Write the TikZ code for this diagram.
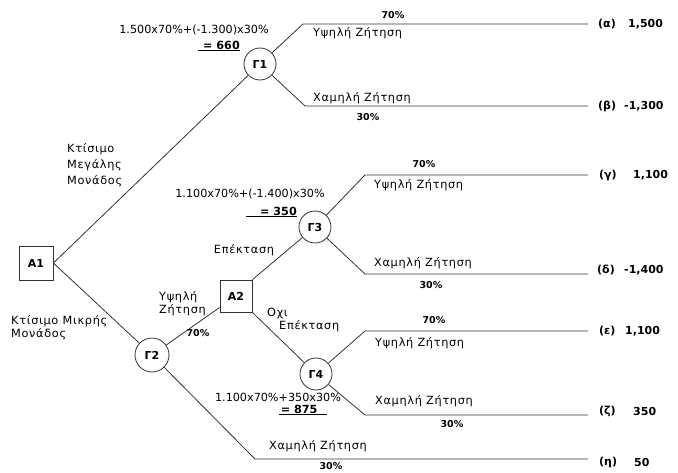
\documentclass[tikz,border=0pt]{standalone}
\usepackage{fontspec}
\setmainfont{DejaVu Sans}
\newfontfamily\grk[LetterSpace=6]{DejaVu Sans}
\begin{document}
\begin{tikzpicture}[x=1pt,y=-1pt,
  link/.style={draw=black!80, line width=0.8pt},
  sq/.style={draw=black!80, line width=0.8pt, minimum size=34pt, inner sep=0pt, font=\bfseries\fontsize{11}{13}\selectfont},
  cn/.style={draw=black!80, line width=0.8pt, circle, minimum size=32pt, inner sep=0pt, font=\bfseries\fontsize{11}{13}\selectfont},
  lbl/.style={inner sep=1pt, font=\grk\fontsize{11.3}{13}\selectfont},
  frm/.style={inner sep=1pt, font=\fontsize{11.2}{13}\selectfont},
  pct/.style={inner sep=1pt, font=\bfseries\fontsize{9.5}{11}\selectfont},
  pay/.style={inner sep=1pt, anchor=west, font=\bfseries\fontsize{11}{13}\selectfont}]
\useasboundingbox (0,0) rectangle (678,473);

% decision and chance nodes
\node[sq] (A1) at (36,263) {A1};
\node[cn] (G1) at (260,64) {Γ1};
\node[cn, minimum size=34pt] (G2) at (152,355) {Γ2};
\node[sq, minimum size=32pt] (A2) at (236,296) {A2};
\node[cn] (G3) at (315,227) {Γ3};
\node[cn] (G4) at (316,374) {Γ4};

% bends and ends
\coordinate (b1) at (303,24);  \coordinate (e1) at (588,24);
\coordinate (b2) at (305,106); \coordinate (e2) at (588,106);
\coordinate (b3) at (365,175); \coordinate (e3) at (588,175);
\coordinate (b4) at (365,274); \coordinate (e4) at (588,274);
\coordinate (b5) at (365,331); \coordinate (e5) at (588,331);
\coordinate (b6) at (365,415); \coordinate (e6) at (588,415);
\coordinate (b7) at (255,459); \coordinate (e7) at (588,459);

% connectors
\draw[link] (A1.east) -- (G1);
\draw[link] (A1.east) -- (G2);
\draw[link] (G2) -- (A2);
\draw[link] (A2.north east) -- (G3);
\draw[link] (A2.south east) -- (G4);
\draw[link] (G1) -- (b1) -- (e1);
\draw[link] (G1) -- (b2) -- (e2);
\draw[link] (G3) -- (b3) -- (e3);
\draw[link] (G3) -- (b4) -- (e4);
\draw[link] (G4) -- (b5) -- (e5);
\draw[link] (G4) -- (b6) -- (e6);
\draw[link] (G2) -- (b7) -- (e7);

% branch labels
\node[lbl, align=left, anchor=west] (kmeg) at (66,165) {Κτίσιμο\\[3pt]Μεγάλης\\[3pt]Μονάδος};
\node[lbl, align=left, anchor=west] (kmik) at (10,328) {Κτίσιμο Μικρής\\Μονάδος};
\node[lbl, align=left, anchor=west] (yz2) at (158,304) {Υψηλή\\Ζήτηση};
\node[pct] (p2) at (198,333) {70\%};
\node[lbl] (ep) at (244,250) {Επέκταση};
\node[lbl, align=left, anchor=north west] (oxi) at (266,307) {Οχι\\\hspace*{12pt}Επέκταση};

% formulas
\node[frm] (f1) at (194,30) {1.500x70\%+(-1.300)x30\%};
\node[frm, anchor=east] (v1) at (241,46) {\underline{\makebox[42pt][r]{\bfseries = 660}}};
\node[frm] (f3) at (250,194) {1.100x70\%+(-1.400)x30\%};
\node[frm, anchor=east] (v3) at (298,212) {\underline{\makebox[51pt][r]{\bfseries = 350}}};
\node[frm] (f4) at (278,397) {1.100x70\%+350x30\%};
\node[frm, anchor=east] (v4) at (328,410) {\underline{\makebox[48pt][l]{\hspace{2pt}\bfseries = 875}}};

% G1 branch labels
\node[pct] (p11) at (393,15) {70\%};
\node[lbl, anchor=west] (y11) at (312,33) {Υψηλή Ζήτηση};
\node[lbl, anchor=west] (x11) at (312,98) {Χαμηλή Ζήτηση};
\node[pct] (p12) at (368,117) {30\%};
% G3 branch labels
\node[pct] (p31) at (424,164) {70\%};
\node[lbl, anchor=west] (y31) at (373,185) {Υψηλή Ζήτηση};
\node[lbl, anchor=west] (x31) at (373,263) {Χαμηλή Ζήτηση};
\node[pct] (p32) at (431,285) {30\%};
% G4 branch labels
\node[pct] (p41) at (434,320) {70\%};
\node[lbl, anchor=west] (y41) at (374,343) {Υψηλή Ζήτηση};
\node[lbl, anchor=west] (x41) at (374,401) {Χαμηλή Ζήτηση};
\node[pct] (p42) at (452,424) {30\%};
% G2 low branch labels
\node[lbl, anchor=west] (x21) at (268,446) {Χαμηλή Ζήτηση};
\node[pct] (p22) at (331,466) {30\%};

% payoffs
\node[pay] (la) at (597,24) {(α)};  \node[pay] (va) at (627,24) {1,500};
\node[pay] (lb) at (597,106) {(β)}; \node[pay] (vb) at (623,106) {-1,300};
\node[pay] (lc) at (598,175) {(γ)}; \node[pay] (vc) at (632,175) {1,100};
\node[pay] (ld) at (596,270) {(δ)}; \node[pay] (vd) at (623,270) {-1,400};
\node[pay] (le) at (598,331) {(ε)}; \node[pay] (ve) at (624,331) {1,100};
\node[pay] (lz) at (598,411) {(ζ)}; \node[pay] (vz) at (632,411) {350};
\node[pay] (lh) at (598,462) {(η)}; \node[pay] (vh) at (633,462) {50};
\end{tikzpicture}
\end{document}
